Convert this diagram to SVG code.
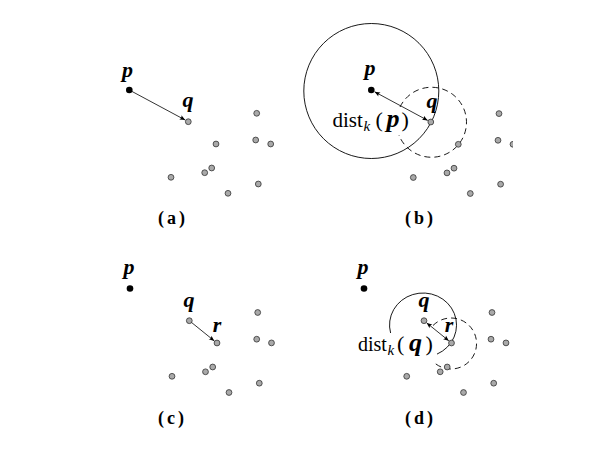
<svg xmlns="http://www.w3.org/2000/svg" width="600" height="450" viewBox="0 0 600 450">
<style>
.pt{fill:#a9a9a9;stroke:#333;stroke-width:0.8}
.pb{fill:#000}
.ln{fill:none;stroke:#000;stroke-width:0.8}
.sol{fill:none;stroke:#000;stroke-width:0.9}
.dash{fill:none;stroke:#000;stroke-width:0.9;stroke-dasharray:6 4}
.lab{font-family:"Liberation Serif",serif;font-weight:bold;font-style:italic;font-size:22px;text-anchor:middle;fill:#000}
.cap{font-family:"Liberation Serif",serif;font-weight:bold;font-size:18px;letter-spacing:3px;fill:#000}
.m{font-family:"Liberation Serif",serif;fill:#000}
.rm{font-size:21px}
.rm2{font-size:20px}
.sub{font-size:15px;font-style:italic}
.par{font-size:22px}
.bi{font-size:26px;font-weight:bold;font-style:italic}
</style>
<defs>
<marker id="ah" viewBox="-6 -3 7 6" refX="0" refY="0" markerWidth="7" markerHeight="6" markerUnits="userSpaceOnUse" orient="auto-start-reverse">
<path d="M0,0 L-5.5,-2.3 Q-3.6,0 -5.5,2.3 Z" fill="#000"/>
</marker>
<clipPath id="clipb"><rect x="290" y="0" width="223" height="240"/></clipPath>
</defs>

<!-- Panel (a) -->
<g id="panel-a">
<g id="a-p"><circle class="pb" cx="129.3" cy="90" r="3.3"/><text class="lab" x="127.5" y="76.5">p</text></g>
<g id="a-q"><circle class="pt" cx="188.3" cy="121.7" r="2.9"/><text class="lab" x="188" y="106.5">q</text></g>
<g id="a-pts">
<circle class="pt" cx="216" cy="144" r="2.9"/>
<circle class="pt" cx="256.7" cy="113.3" r="2.9"/>
<circle class="pt" cx="255.7" cy="140" r="2.9"/>
<circle class="pt" cx="270.7" cy="144" r="2.9"/>
<circle class="pt" cx="171" cy="177.3" r="2.9"/>
<circle class="pt" cx="204.7" cy="172.7" r="2.9"/>
<circle class="pt" cx="211.7" cy="168" r="2.9"/>
<circle class="pt" cx="258.3" cy="184" r="2.9"/>
<circle class="pt" cx="228" cy="193.3" r="2.9"/>
</g>
<text class="cap" x="158" y="224">(a)</text>
</g>

<!-- Panel (b) -->
<g id="panel-b">
<g id="b-circles">
<circle class="sol" cx="371.3" cy="91" r="67.5"/>
<path class="dash" d="M400,107 A35,35 0 1 1 398.9,135"/>
</g>
<g id="b-p"><circle class="pb" cx="371.3" cy="90" r="3.3"/><text class="lab" x="370" y="75">p</text></g>
<g id="b-q"><circle class="pt" cx="430.8" cy="122" r="2.9"/><text class="lab" x="432" y="108">q</text></g>
<g id="b-pts" clip-path="url(#clipb)">
<circle class="pt" cx="458.3" cy="144.3" r="2.9"/>
<circle class="pt" cx="499" cy="113.6" r="2.9"/>
<circle class="pt" cx="498" cy="140.3" r="2.9"/>
<circle class="pt" cx="513" cy="144.3" r="2.9"/>
<circle class="pt" cx="413.3" cy="177.5" r="2.9"/>
<circle class="pt" cx="447" cy="172.9" r="2.9"/>
<circle class="pt" cx="454" cy="168.2" r="2.9"/>
<circle class="pt" cx="500.6" cy="184.2" r="2.9"/>
<circle class="pt" cx="470.3" cy="193.5" r="2.9"/>
</g>
<text class="m" y="127"><tspan class="rm" x="332.5">dist</tspan><tspan class="sub" x="363.5" y="131">k</tspan><tspan class="par" x="375.5" y="127">(</tspan><tspan class="bi" x="386.5">p</tspan><tspan class="par" x="401.5">)</tspan></text>
<text class="cap" x="405" y="224">(b)</text>
</g>

<!-- Panel (c) -->
<g id="panel-c">
<g id="c-p"><circle class="pb" cx="130" cy="288.5" r="3.3"/><text class="lab" x="129" y="274">p</text></g>
<g id="c-q"><circle class="pt" cx="189.3" cy="320.7" r="2.9"/><text class="lab" x="189" y="306.5">q</text></g>
<g id="c-r"><circle class="pt" cx="217" cy="343" r="2.9"/><text class="lab" x="217" y="331.5">r</text></g>
<g id="c-pts">
<circle class="pt" cx="257.7" cy="312.5" r="2.9"/>
<circle class="pt" cx="256.7" cy="339.2" r="2.9"/>
<circle class="pt" cx="271.5" cy="342.9" r="2.9"/>
<circle class="pt" cx="172" cy="376.3" r="2.9"/>
<circle class="pt" cx="205.5" cy="371.8" r="2.9"/>
<circle class="pt" cx="212.7" cy="367" r="2.9"/>
<circle class="pt" cx="259.3" cy="383.2" r="2.9"/>
<circle class="pt" cx="229" cy="392.5" r="2.9"/>
</g>
<text class="cap" x="158" y="424">(c)</text>
</g>

<!-- Panel (d) -->
<g id="panel-d">
<g id="d-circles">
<path class="sol" d="M390.6,333 A33.5,32 0 1 1 437,354.1"/>
<path class="dash" d="M433,325.5 A25.5,25.5 0 1 1 433,361.5"/>
</g>
<g id="d-p"><circle class="pb" cx="364" cy="288.5" r="3.3"/><text class="lab" x="363" y="274">p</text></g>
<g id="d-q"><circle class="pt" cx="424" cy="320.7" r="2.9"/><text class="lab" x="424" y="306.5">q</text></g>
<g id="d-r"><circle class="pt" cx="451.5" cy="343" r="2.9"/><text class="lab" x="449" y="331.5">r</text></g>
<g id="d-pts">
<circle class="pt" cx="492" cy="312.5" r="2.9"/>
<circle class="pt" cx="491" cy="339.2" r="2.9"/>
<circle class="pt" cx="506" cy="342.9" r="2.9"/>
<circle class="pt" cx="406.7" cy="376.3" r="2.9"/>
<circle class="pt" cx="440.2" cy="371.8" r="2.9"/>
<circle class="pt" cx="447.2" cy="367" r="2.9"/>
<circle class="pt" cx="493.7" cy="383.2" r="2.9"/>
<circle class="pt" cx="463.5" cy="392.5" r="2.9"/>
</g>
<text class="m" y="351"><tspan class="rm2" x="358">dist</tspan><tspan class="sub" x="387.5" y="355">k</tspan><tspan class="par" x="397" y="351">(</tspan><tspan class="bi" x="409">q</tspan><tspan class="par" x="425.5">)</tspan></text>
<text class="cap" x="405" y="424">(d)</text>
</g>

<!-- Connectors -->
<g id="connectors">
<line class="ln" x1="129.3" y1="90" x2="185.2" y2="120" marker-end="url(#ah)"/>
<line class="ln" x1="374.6" y1="91.8" x2="427.7" y2="120.4" marker-start="url(#ah)" marker-end="url(#ah)"/>
<line class="ln" x1="191.7" y1="322.6" x2="214.3" y2="340.9" marker-end="url(#ah)"/>
<line class="ln" x1="426.7" y1="322.9" x2="448.8" y2="340.8" marker-start="url(#ah)" marker-end="url(#ah)"/>
</g>
</svg>
